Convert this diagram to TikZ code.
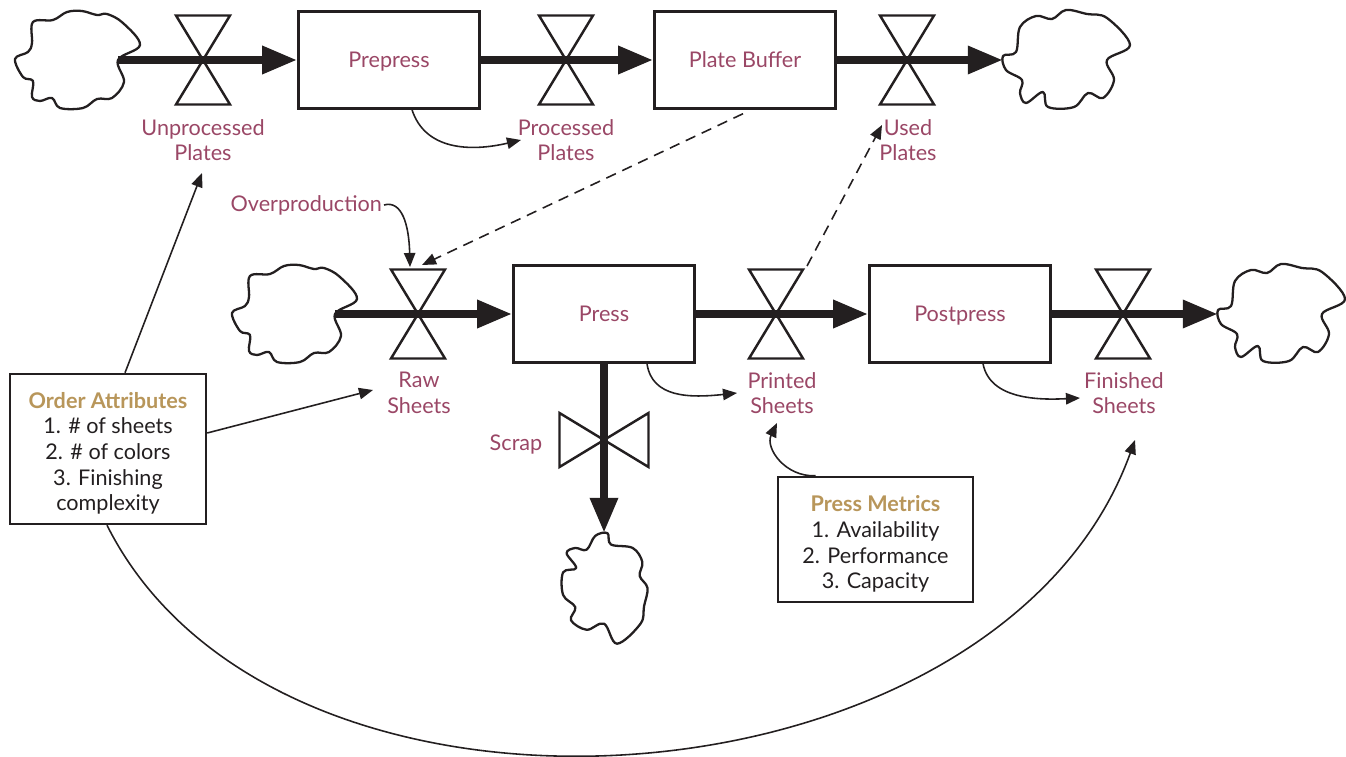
\documentclass[tikz,border=0pt]{standalone}
\usepackage{fontspec}
\setmainfont{Lato}
\usetikzlibrary{arrows.meta,calc}
\definecolor{lblred}{HTML}{9A4766}
\definecolor{titlegold}{HTML}{B8965A}
\definecolor{ink}{HTML}{231F20}
\begin{document}
\begin{tikzpicture}[x=0.02cm,y=-0.02cm,
  txt/.style={font=\fontsize{12.3}{14.6}\selectfont},
  stock/.style={txt, draw=ink, line width=1.4pt, minimum width=3.62cm, minimum height=1.94cm, text=lblred, inner sep=0pt, text height=8.5pt, text depth=0pt},
  flowlabel/.style={txt, text=lblred, align=center, inner sep=1pt},
  infobox/.style={txt, draw=ink, line width=1.4pt, align=center, text=ink, inner sep=0pt},
  pipe/.style={draw=ink, line width=4.6pt, -{Triangle[length=20pt,width=15pt]}},
  link/.style={draw=ink, line width=0.9pt, -{Triangle[length=8pt,width=6.5pt]}},
  dashlink/.style={link, dash pattern=on 6pt off 4pt},
  cloudline/.style={draw=ink, line width=1.3pt, fill=white, line join=round},
  valveline/.style={draw=ink, line width=1.4pt, line join=miter},
  flowvalve/.pic={
    \draw[valveline] (-27,-44.5) -- (27,-44.5) -- (0,0) -- cycle;
    \draw[valveline] (-27,44.5) -- (27,44.5) -- (0,0) -- cycle;
  },
  leftcloud/.pic={
    \draw[cloudline] plot[smooth cycle, tension=0.6] coordinates {
      (40,0) (62,-15) (45,-37) (29,-46) (19,-45) (4,-49) (-11,-48)
      (-25,-40) (-45,-38) (-46,-17) (-50,-8) (-63,-1) (-55,17)
      (-45,21) (-46,37) (-38,41) (-26,38) (-18,48) (5,48) (19,39)
      (34,38) (46,22)};
  },
  rightcloud/.pic={
    \draw[cloudline] plot[smooth cycle, tension=0.6] coordinates {
      (-63,-4) (-50,-8) (-46,-33) (-30,-44) (-14,-41) (0,-50) (21,-46)
      (41,-42) (64,-15) (41,0) (48,20) (37,38) (22,33) (8,47) (-18,47)
      (-23,32) (-40,43) (-46,33) (-44,20) (-60,10)};
  }
]
\useasboundingbox (0,0) rectangle (1346,757);

% clouds (sources and sinks)
\pic at (78,60) {leftcloud};
\pic at (295,314) {leftcloud};
\pic at (1066,60) {rightcloud};
\pic at (1281,314) {rightcloud};
\pic[rotate=-90, scale=0.87] at (604,588) {rightcloud};
\coordinate (c1) at (118,60);
\coordinate (c3) at (1003,60);
\coordinate (c4) at (335,314);
\coordinate (c6) at (1218,314);
\coordinate (c7) at (604,533);

% stocks
\node[stock] (prepress) at (389,60) {Prepress};
\node[stock] (platebuf) at (745,60) {Plate Buffer};
\node[stock] (press) at (604,314) {Press};
\node[stock] (postpress) at (960,314) {Postpress};

% flows
\draw[pipe] (c1) -- (prepress.west);
\draw[pipe] (prepress.east) -- (platebuf.west);
\draw[pipe] (platebuf.east) -- (c3);
\draw[pipe] (c4) -- (press.west);
\draw[pipe] (press.east) -- (postpress.west);
\draw[pipe] (postpress.east) -- (c6);
\draw[pipe] (press.south) -- (c7);

% valves
\coordinate (vUnproc) at (203,60);
\coordinate (vProc) at (566,60);
\coordinate (vUsed) at (907,60);
\coordinate (vRaw) at (418,314);
\coordinate (vPrinted) at (776,314);
\coordinate (vFinished) at (1123,314);
\coordinate (vScrap) at (604,440);
\pic at (vUnproc) {flowvalve};
\pic at (vProc) {flowvalve};
\pic at (vUsed) {flowvalve};
\pic at (vRaw) {flowvalve};
\pic at (vPrinted) {flowvalve};
\pic at (vFinished) {flowvalve};
\pic[rotate=90] at (vScrap) {flowvalve};

% flow labels
\node[flowlabel] (unproc) at (203,140) {Unprocessed\\Plates};
\node[flowlabel] (processed) at (566,140) {Processed\\Plates};
\node[flowlabel] (used) at (908,140) {Used\\Plates};
\node[flowlabel] (raw) at (419,393) {Raw\\Sheets};
\node[flowlabel] (printed) at (782,393) {Printed\\Sheets};
\node[flowlabel] (finished) at (1124,393) {Finished\\Sheets};
\node[flowlabel] (scrap) at (516,445) {Scrap};
\node[flowlabel, anchor=east] (overprod) at (384,205) {Overproduction};

% information boxes
\node[infobox, minimum width=3.92cm, minimum height=3.0cm] (oa) at (108,449)
  {\rule{0pt}{14pt}\textcolor{titlegold}{\bfseries Order Attributes}\\1. \# of sheets\\2. \# of colors\\3. Finishing\\complexity};
\node[infobox, minimum width=3.9cm, minimum height=2.5cm] (pm) at (875.5,539.5)
  {\rule{0pt}{14.5pt}\textcolor{titlegold}{\bfseries Press Metrics}\\1. Availability\\2. Performance\\3. Capacity};

% information links
\draw[link] ($(oa.north)+(17,0)$) -- ($(unproc.center)+(-1,33)$);
\draw[link] ($(oa.east)+(0,-16)$) -- ($(raw.center)+(-46,-3)$);
\draw[link] ($(oa.south)+(-1,0)$) .. controls (280,870) and (1000,815) .. ($(finished.center)+(11,47)$);
\draw[link] ($(prepress.south)+(23,0)$) .. controls (425,150) and (470,152) .. ($(processed.center)+(-45,0)$);
\draw[link] ($(press.south)+(43,0)$) .. controls (652,398) and (690,398) .. ($(printed.center)+(-45,0)$);
\draw[link] ($(postpress.south)+(23,0)$) .. controls (990,400) and (1040,400) .. ($(finished.center)+(-44,5)$);
\draw[link] ($(pm.north)+(-60,0)$) .. controls (785,477) and (765,448) .. ($(printed.center)+(-5,30)$);
\draw[link] (overprod.east) .. controls (402,200) and (409,225) .. ($(vRaw)+(-8,-47)$);
\draw[dashlink] ($(platebuf.south)+(-2,4)$) -- ($(vRaw)+(4,-49)$);
\draw[dashlink] ($(vPrinted)+(31,-48)$) -- ($(used.center)+(-26,-15)$);
\end{tikzpicture}
\end{document}
